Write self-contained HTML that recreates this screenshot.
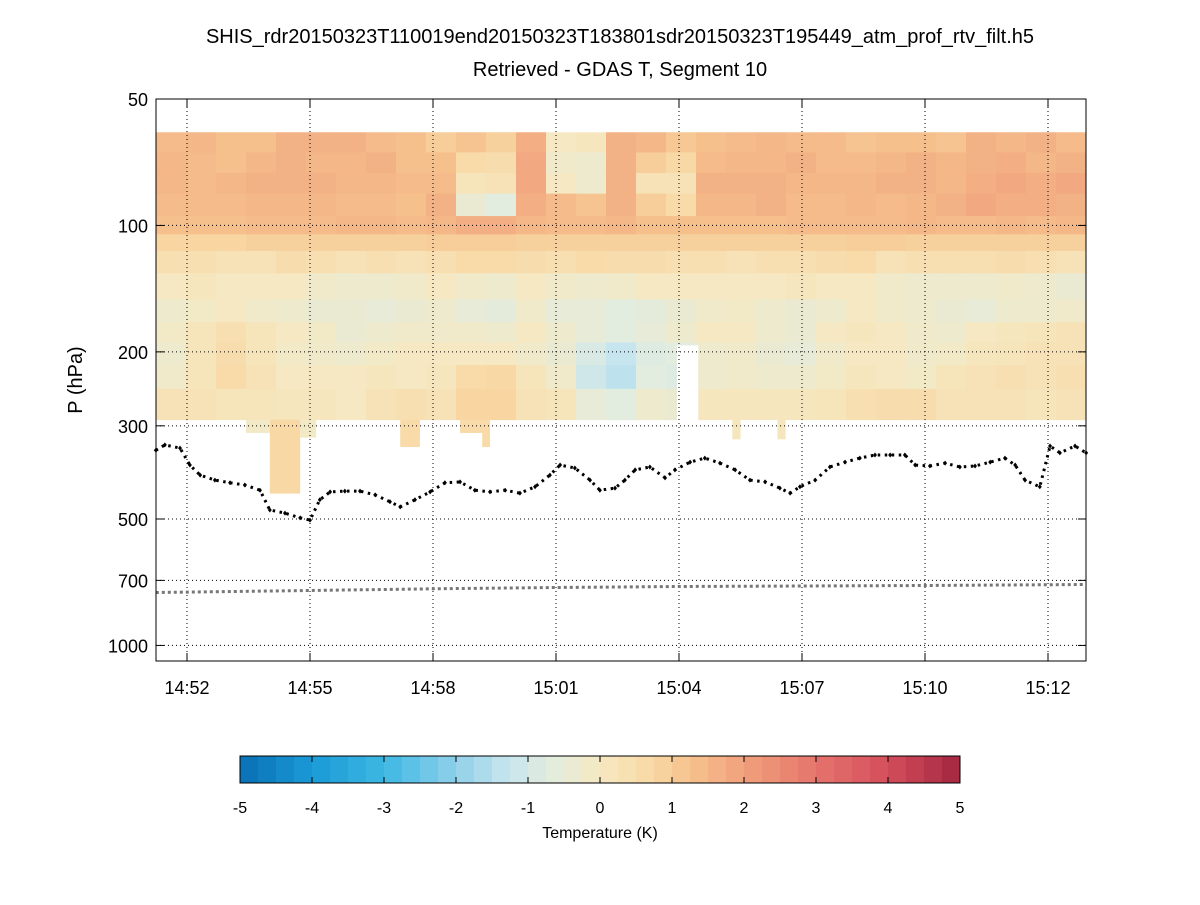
<!DOCTYPE html>
<html><head><meta charset="utf-8"><style>
body{margin:0;background:#fff;}
svg text{font-family:"Liberation Sans",sans-serif;fill:#000;}
</style></head><body>
<svg id="chart" width="1200" height="900" xmlns="http://www.w3.org/2000/svg">
<text x="620" y="43" font-size="20" text-anchor="middle">SHIS_rdr20150323T110019end20150323T183801sdr20150323T195449_atm_prof_rtv_filt.h5</text>
<text x="620" y="76" font-size="20" text-anchor="middle">Retrieved - GDAS T, Segment 10</text>
<text transform="translate(82,380) rotate(-90)" font-size="20" text-anchor="middle">P (hPa)</text>
<g id="heat"></g>
<g id="grid"></g>
<g id="series"></g>
<rect x="156" y="99" width="930" height="562" fill="none" stroke="#000" stroke-width="1"/>
<g id="axes"></g>
<g id="cbar"></g>
<text x="600" y="838" font-size="16" text-anchor="middle">Temperature (K)</text>
</svg>
<script>
// ---- data ----
const colStart = -0.756, colWidth = 0.7317;
const rowEdges = [60,67,75,84,95,105,115,130,150,170,190,215,245,290];
const R0 = [1.4,1.5,1.3,1.3,1.6,1.6,1.6,1.4,1.3,1.0,1.2,0.9,1.7,0.0,0.1,1.6,1.5,1.1,1.3,1.4,1.5,1.4,1.4,1.2,1.3,1.3,1.2,1.6,1.5,1.6,1.4];
const R1 = [1.5,1.4,1.3,1.5,1.6,1.5,1.5,1.6,1.3,1.3,0.6,0.5,1.8,-0.2,-0.3,1.6,1.0,0.7,1.4,1.5,1.5,1.6,1.4,1.4,1.5,1.6,1.5,1.6,1.7,1.5,1.6];
const R2 = [1.5,1.4,1.5,1.6,1.6,1.6,1.5,1.5,1.4,1.4,0.2,0.3,1.8,0.0,-0.3,1.6,0.3,0.3,1.6,1.6,1.6,1.5,1.5,1.5,1.6,1.6,1.5,1.7,1.8,1.7,1.8];
const R3 = [1.4,1.4,1.4,1.5,1.5,1.5,1.4,1.4,1.3,1.6,-0.4,-0.7,1.7,1.4,1.2,1.6,1.0,0.6,1.5,1.5,1.6,1.4,1.4,1.5,1.4,1.5,1.6,1.8,1.7,1.7,1.6];
const R4 = [1.3,1.3,1.3,1.4,1.4,1.4,1.5,1.5,1.4,1.5,1.7,1.7,1.5,1.4,1.4,1.5,1.3,1.3,1.3,1.3,1.3,1.4,1.4,1.4,1.4,1.5,1.4,1.4,1.5,1.4,1.5];
const R5 = [0.8,0.8,0.8,0.9,0.9,0.9,0.9,0.9,0.9,1.0,1.0,1.0,0.9,0.9,0.9,0.9,0.9,0.9,0.9,0.9,0.9,0.9,0.9,1.0,1.0,0.9,0.9,0.9,0.9,0.9,0.9];
const R6 = [0.4,0.4,0.3,0.3,0.5,0.4,0.3,0.4,0.3,0.4,0.6,0.6,0.5,0.4,0.6,0.5,0.5,0.4,0.4,0.3,0.4,0.4,0.5,0.6,0.3,0.4,0.4,0.4,0.5,0.4,0.3];
const R7 = [0.0,0.1,0.0,0.0,0.0,-0.2,-0.3,-0.3,-0.2,0.0,-0.2,-0.3,0.0,-0.2,-0.3,-0.2,0.0,0.0,0.0,0.0,0.0,0.1,0.0,0.0,-0.2,-0.3,-0.3,-0.3,-0.2,-0.3,-0.4];
const R8 = [-0.3,-0.1,0.0,-0.2,-0.3,-0.4,-0.4,-0.5,-0.4,-0.3,-0.5,-0.6,-0.2,-0.5,-0.5,-0.7,-0.6,-0.4,-0.2,-0.1,-0.3,-0.4,-0.3,0.0,-0.2,-0.3,-0.4,-0.5,-0.3,-0.3,-0.2];
const R9 = [-0.1,0.2,0.4,0.2,0.0,-0.1,-0.4,-0.3,-0.2,-0.2,-0.2,-0.3,0.0,-0.3,-0.5,-0.7,-0.5,-0.3,0.0,0.0,-0.3,-0.4,0.0,0.1,0.0,-0.2,-0.3,0.0,0.1,0.2,0.3];
const R10 = [-0.3,0.2,0.5,0.2,-0.1,-0.2,-0.3,-0.1,0.0,0.0,0.0,0.0,-0.2,-0.4,-0.9,-1.3,-0.8,-0.7,-0.3,-0.2,-0.4,-0.5,-0.2,0.0,0.0,-0.2,-0.1,0.1,0.2,0.3,0.3];
const R11 = [-0.2,0.2,0.6,0.3,0.0,0.0,0.0,0.1,0.0,0.1,0.6,0.7,0.2,-0.2,-1.1,-1.4,-0.7,-0.8,-0.3,-0.2,-0.3,-0.3,-0.1,0.1,0.0,-0.1,0.2,0.3,0.4,0.3,0.4];
const R12 = [0.3,0.3,0.2,0.2,0.1,0.1,0.0,0.3,0.4,0.3,0.8,0.8,0.3,0.2,-0.5,-0.7,-0.3,-0.4,0.1,0.1,0.1,0.1,0.2,0.4,0.5,0.5,0.3,0.3,0.3,0.2,0.3];
const gapStart = [11.95], gapEnd = [12.47], gapTop = [193], gapBottom = [290];
const extStart = [1.44,2.02,2.76,5.2,6.66,7.2,13.3,14.4];
const extEnd   = [2.02,2.76,3.15,5.68,7.39,7.39,13.5,14.6];
const extBottom= [312,435,320,337,312,337,323,323];
const extValue = [-0.1,0.7,-0.1,0.6,0.6,0.6,0.1,0.1];
const blackT = [-0.76,-0.54,-0.17,0.07,0.32,0.68,1.05,1.41,1.78,2.02,2.39,2.76,3.0,3.24,3.49,3.85,4.22,4.59,4.95,5.2,5.56,5.93,6.29,6.66,7.02,7.39,7.76,8.12,8.49,8.85,9.1,9.46,9.83,10.07,10.44,10.68,10.93,11.29,11.66,11.9,12.27,12.63,13.0,13.37,13.73,14.1,14.46,14.71,14.95,15.32,15.68,16.05,16.41,16.78,17.15,17.51,17.76,18.12,18.49,18.85,19.22,19.59,19.95,20.2,20.44,20.8,21.05,21.29,21.66,21.93];
const blackP = [343,333,339,372,393,404,410,415,427,476,484,497,503,450,431,429,429,438,455,468,450,431,410,408,427,431,427,434,419,393,372,378,404,427,422,404,382,376,399,382,366,358,368,382,404,408,422,434,419,404,376,366,358,352,352,352,372,374,368,376,374,366,358,372,404,419,335,348,335,348];
const grayT = [-0.76,3,6,9,12,15,18,21.93];
const grayP = [748,740,733,728,724,722,720,716];
const xTickMin = [0,3,6,9,12,15,18,21];
const xTickLabels = ["14:52","14:55","14:58","15:01","15:04","15:07","15:10","15:12"];
const yTicks = [50,100,200,300,500,700,1000];
const cbTicks = [-5,-4,-3,-2,-1,0,1,2,3,4,5];
// ---- scales ----
const X = t => 187 + t*41;
const Y = p => 99 + 420*Math.log10(p/50);
const stops = [[-5,[10,111,181]],[-4,[26,154,214]],[-3,[61,184,227]],[-2,[143,208,234]],[-1.3,[198,229,238]],[-0.7,[226,236,223]],[0,[245,232,194]],[0.7,[248,217,165]],[1.3,[246,192,140]],[2,[240,160,124]],[3,[230,116,108]],[4,[212,78,92]],[5,[163,38,63]]];
function col(v){
  v=Math.max(-5,Math.min(5,v));
  for(let i=0;i<stops.length-1;i++){const a=stops[i],b=stops[i+1];
    if(v<=b[0]){const f=(v-a[0])/(b[0]-a[0]);
      return 'rgb('+a[1].map((c,k)=>Math.round(c+(b[1][k]-c)*f)).join(',')+')';}}
  return 'rgb(163,38,63)';
}
const NS="http://www.w3.org/2000/svg";
function mk(tag,attrs,parent){const e=document.createElementNS(NS,tag);for(const k in attrs)e.setAttribute(k,attrs[k]);parent.appendChild(e);return e;}
// heatmap
const heat=document.getElementById('heat');
const rows=[R0,R1,R2,R3,R4,R5,R6,R7,R8,R9,R10,R11,R12];
rows.forEach((r,ri)=>{r.forEach((v,ci)=>{
  if(v===null)return;
  const t0=colStart+ci*colWidth;
  const x0=X(t0), x1=Math.min(X(t0+colWidth),1086);
  const e=mk('rect',{x:x0,y:Y(rowEdges[ri]),width:x1-x0+0.5,height:Y(rowEdges[ri+1])-Y(rowEdges[ri])+0.5,fill:col(v)},heat);
  
  
});});
extStart.forEach((s,i)=>{
  const e=mk('rect',{x:X(s),y:Y(290),width:X(extEnd[i])-X(s),height:Y(extBottom[i])-Y(290),fill:col(extValue[i])},heat);
  
  
});
gapStart.forEach((s,i)=>{
  const e=mk('rect',{x:X(s),y:Y(gapTop[i]),width:X(gapEnd[i])-X(s),height:Y(gapBottom[i])-Y(gapTop[i])+1,fill:'#fff'},heat);
  
  
});
// grid + axes
const grid=document.getElementById('grid'), axes=document.getElementById('axes');
xTickMin.forEach((t,i)=>{
  const x=X(t);
  const g=mk('line',{x1:x,x2:x,y1:99,y2:661,stroke:'#000','stroke-width':1,'stroke-dasharray':'1 3'},grid);
  
  
  mk('line',{x1:x,x2:x,y1:661,y2:653,stroke:'#000'},axes);
  mk('line',{x1:x,x2:x,y1:99,y2:107,stroke:'#000'},axes);
  const tx=mk('text',{x:x,y:694,'font-size':18,'text-anchor':'middle'},axes);
  tx.textContent=xTickLabels[i];
  
  
});
yTicks.forEach(p=>{
  const y=Y(p);
  const g=mk('line',{x1:156,x2:1086,y1:y,y2:y,stroke:'#000','stroke-width':1,'stroke-dasharray':'1 3'},grid);
  
  
  mk('line',{x1:156,x2:164,y1:y,y2:y,stroke:'#000'},axes);
  mk('line',{x1:1078,x2:1086,y1:y,y2:y,stroke:'#000'},axes);
  const tx=mk('text',{x:148,y:y+7,'font-size':18,'text-anchor':'end'},axes);
  tx.textContent=p;
  
  
});
// series
const ser=document.getElementById('series');
function line(ts,ps,color,name,w,dash){
  const d=ts.map((t,i)=>(i?'L':'M')+X(t).toFixed(1)+','+Y(ps[i]).toFixed(1)).join('');
  const e=mk('path',{d:d,fill:'none',stroke:color,'stroke-width':w,'stroke-dasharray':dash},ser);
  
  
}
line(blackT,blackP,'#000','cloud-top-dots',3,'2.5 4.5');
blackT.forEach((t,i)=>{
  const x=X(t),y=Y(blackP[i]);
  const e=mk('path',{d:`M${x},${y-2.5}L${x+2},${y}L${x},${y+2.5}L${x-2},${y}Z`,fill:'#000'},ser);
  
  
});
line(grayT,grayP,'#777','surface-pressure-dots',3,'3 3');
// colorbar
const cb=document.getElementById('cbar');
const cbX0=240,cbX1=960,n=40,w=(cbX1-cbX0)/n;
for(let i=0;i<n;i++){
  const v=-5+(i+0.5)*10/n;
  const e=mk('rect',{x:cbX0+i*w,y:756,width:w+0.5,height:27,fill:col(v)},cb);
  
  
}
mk('rect',{x:cbX0,y:756,width:cbX1-cbX0,height:27,fill:'none',stroke:'#000'},cb);
cbTicks.forEach(v=>{
  const x=cbX0+(v+5)/10*(cbX1-cbX0);
  mk('line',{x1:x,x2:x,y1:783,y2:777,stroke:'#000'},cb);
  mk('line',{x1:x,x2:x,y1:756,y2:762,stroke:'#000'},cb);
  const tx=mk('text',{x:x,y:813,'font-size':16,'text-anchor':'middle'},cb);
  tx.textContent=v;
  
  
});
</script>
</body></html>
